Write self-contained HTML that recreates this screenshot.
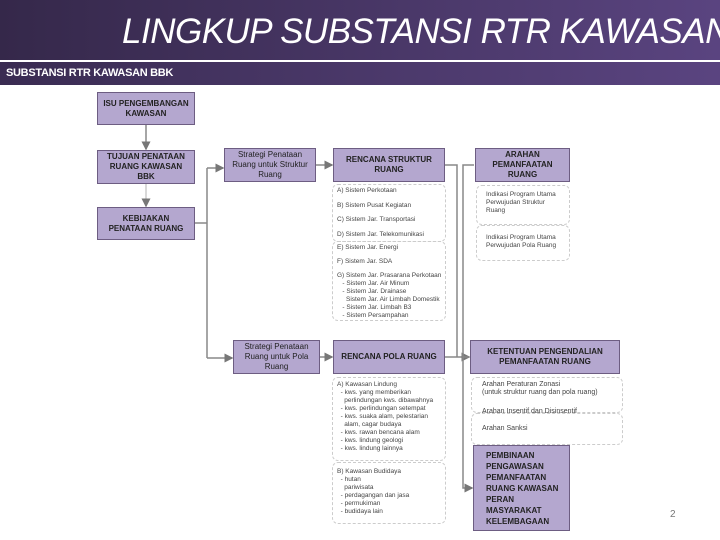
<!DOCTYPE html><html><head><style>
body{margin:0;width:720px;height:540px;overflow:hidden;background:#fff;font-family:"Liberation Sans",sans-serif;position:relative}
.hd{position:absolute;left:0;top:0;width:720px;height:60px;background:linear-gradient(90deg,#35284a,#5a4480)}
.hd span{position:absolute;left:122px;top:12px;color:#fff;font-size:35px;font-style:italic;white-space:nowrap;letter-spacing:-0.5px}
.sb{position:absolute;left:0;top:62px;width:720px;height:23px;background:linear-gradient(90deg,#3a2c52,#5a4480)}
.sb span{position:absolute;left:6px;top:5px;color:#fff;font-size:11px;font-weight:bold;letter-spacing:-0.3px}
.b{position:absolute;background:#b4a7cf;border:1px solid #6d5d82;box-sizing:border-box;display:flex;align-items:center;justify-content:center;text-align:center;font-size:8px;font-weight:bold;color:#222;line-height:10px}
.t{position:absolute;font-size:6.5px;color:#444;line-height:8px;white-space:nowrap}
.d{position:absolute;border:1px dashed #ccc;border-radius:6px}
</style></head><body>
<div class="hd"><span>LINGKUP SUBSTANSI RTR KAWASAN</span></div>
<div class="sb"><span>SUBSTANSI RTR KAWASAN BBK</span></div>
<svg style="position:absolute;left:0;top:0" width="720" height="540">
<defs><marker id="a" markerWidth="6" markerHeight="6" refX="5" refY="3" orient="auto"><path d="M0,0L6,3L0,6z" fill="#777"/></marker></defs>
<g stroke="#888" stroke-width="1.5" fill="none">
<line x1="146" y1="125" x2="146" y2="149" marker-end="url(#a)"/>
<line x1="146" y1="184" x2="146" y2="206" marker-end="url(#a)" stroke="#ccc"/>
<line x1="195" y1="223" x2="207" y2="223"/>
<line x1="207" y1="168" x2="207" y2="358"/>
<line x1="207" y1="168" x2="223" y2="168" marker-end="url(#a)"/>
<line x1="207" y1="358" x2="232" y2="358" marker-end="url(#a)"/>
<line x1="316" y1="165" x2="332" y2="165" marker-end="url(#a)"/>
<line x1="320" y1="357" x2="332" y2="357" marker-end="url(#a)"/>
<polyline points="445,165 457,165 457,357"/>
<line x1="445" y1="357" x2="469" y2="357" marker-end="url(#a)"/>
<polyline points="474,165 463,165 463,488 472,488" marker-end="url(#a)"/>
<line x1="463" y1="357" x2="469" y2="357"/>
</g></svg>
<div class="b" style="left:97px;top:92px;width:98px;height:33px">ISU PENGEMBANGAN<br>KAWASAN</div>
<div class="b" style="left:97px;top:150px;width:98px;height:34px">TUJUAN PENATAAN<br>RUANG KAWASAN<br>BBK</div>
<div class="b" style="left:97px;top:207px;width:98px;height:33px">KEBIJAKAN<br>PENATAAN RUANG</div>
<div class="b" style="left:224px;top:148px;width:92px;height:34px;font-weight:normal">Strategi Penataan<br>Ruang untuk Struktur<br>Ruang</div>
<div class="b" style="left:333px;top:148px;width:112px;height:34px">RENCANA STRUKTUR<br>RUANG</div>
<div class="b" style="left:475px;top:148px;width:95px;height:34px">ARAHAN<br>PEMANFAATAN<br>RUANG</div>
<div class="b" style="left:233px;top:340px;width:87px;height:34px;font-weight:normal">Strategi Penataan<br>Ruang untuk Pola<br>Ruang</div>
<div class="b" style="left:333px;top:340px;width:112px;height:34px">RENCANA POLA RUANG</div>
<div class="b" style="left:470px;top:340px;width:150px;height:34px">KETENTUAN PENGENDALIAN<br>PEMANFAATAN RUANG</div>
<div class="b" style="left:473px;top:445px;width:97px;height:86px;justify-content:flex-start;text-align:left;padding-left:12px;line-height:11px">PEMBINAAN<br>PENGAWASAN<br>PEMANFAATAN<br>RUANG KAWASAN<br>PERAN<br>MASYARAKAT<br>KELEMBAGAAN</div>
<div class="d" style="left:332px;top:184px;width:112px;height:56px"></div>
<div class="d" style="left:332px;top:241px;width:112px;height:78px"></div>
<div class="t" style="left:337px;top:187px">A) Sistem Perkotaan</div>
<div class="t" style="left:337px;top:202px">B) Sistem Pusat Kegiatan</div>
<div class="t" style="left:337px;top:216px">C) Sistem Jar. Transportasi</div>
<div class="t" style="left:337px;top:231px">D) Sistem Jar. Telekomunikasi</div>
<div class="t" style="left:337px;top:244px">E) Sistem Jar. Energi</div>
<div class="t" style="left:337px;top:258px">F) Sistem Jar. SDA</div>
<div class="t" style="left:337px;top:272px">G) Sistem Jar. Prasarana Perkotaan<br>&nbsp;&nbsp;&nbsp;- Sistem Jar. Air Minum<br>&nbsp;&nbsp;&nbsp;- Sistem Jar. Drainase<br>&nbsp;&nbsp;&nbsp;&nbsp;&nbsp;Sistem Jar. Air Limbah Domestik<br>&nbsp;&nbsp;&nbsp;- Sistem Jar. Limbah B3<br>&nbsp;&nbsp;&nbsp;- Sistem Persampahan</div>
<div class="d" style="left:476px;top:185px;width:92px;height:38px"></div>
<div class="d" style="left:476px;top:225px;width:92px;height:34px"></div>
<div class="t" style="left:486px;top:191px">Indikasi Program Utama<br>Perwujudan Struktur<br>Ruang</div>
<div class="t" style="left:486px;top:234px">Indikasi Program Utama<br>Perwujudan Pola Ruang</div>
<div class="d" style="left:332px;top:377px;width:112px;height:82px"></div>
<div class="d" style="left:332px;top:462px;width:112px;height:60px"></div>
<div class="t" style="left:337px;top:381px">A) Kawasan Lindung<br>&nbsp;&nbsp;- kws. yang memberikan<br>&nbsp;&nbsp;&nbsp;&nbsp;perlindungan kws. dibawahnya<br>&nbsp;&nbsp;- kws. perlindungan setempat<br>&nbsp;&nbsp;- kws. suaka alam, pelestarian<br>&nbsp;&nbsp;&nbsp;&nbsp;alam, cagar budaya<br>&nbsp;&nbsp;- kws. rawan bencana alam<br>&nbsp;&nbsp;- kws. lindung geologi<br>&nbsp;&nbsp;- kws. lindung lainnya</div>
<div class="t" style="left:337px;top:468px">B) Kawasan Budidaya<br>&nbsp;&nbsp;- hutan<br>&nbsp;&nbsp;&nbsp;&nbsp;pariwisata<br>&nbsp;&nbsp;- perdagangan dan jasa<br>&nbsp;&nbsp;- permukiman<br>&nbsp;&nbsp;- budidaya lain</div>
<div class="d" style="left:471px;top:377px;width:150px;height:34px"></div>
<div class="d" style="left:471px;top:413px;width:150px;height:30px"></div>
<div class="t" style="left:482px;top:381px;font-size:7px">Arahan Peraturan Zonasi<br>(untuk struktur ruang dan pola ruang)</div>
<div class="t" style="left:482px;top:408px;font-size:7px">Arahan Insentif dan Disinsentif</div>
<div class="t" style="left:482px;top:425px;font-size:7px">Arahan Sanksi</div>
<div class="t" style="left:670px;top:511px;font-size:10px;color:#777">2</div>
</body></html>
